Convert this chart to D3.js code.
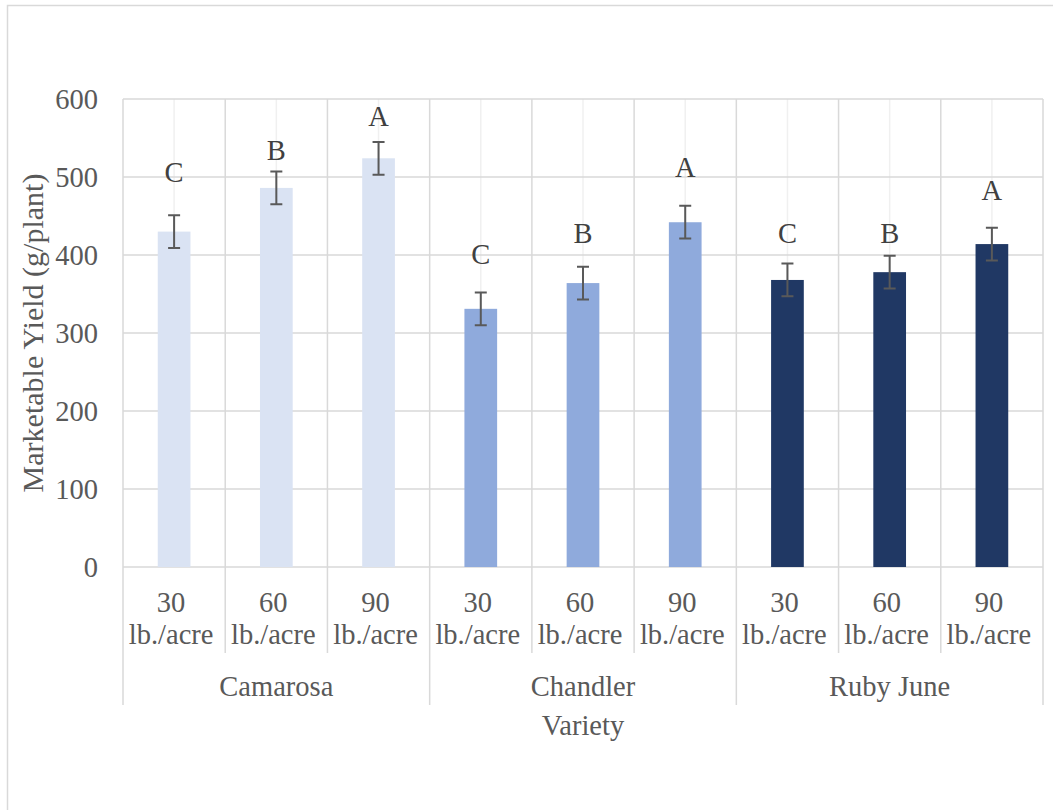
<!DOCTYPE html>
<html>
<head>
<meta charset="utf-8">
<script src="https://cdn.jsdelivr.net/npm/d3@7"></script>
<style>
  html, body { margin: 0; padding: 0; background: #ffffff; }
  svg { display: block; }
</style>
</head>
<body>
<svg id="chart" width="1053" height="810" font-family="'Liberation Serif', 'DejaVu Serif', 'Times New Roman', serif"></svg>
<script>
// Marketable yield by variety and nitrogen rate
const varieties = ["Camarosa", "Chandler", "Ruby June"];
const rates = ["30 lb./acre", "60 lb./acre", "90 lb./acre"];
const yieldValues = [430, 486, 524, 331, 364, 442, 368, 378, 414];
const errorValues = [21, 21, 21, 21, 21, 21, 21, 21, 21];
const letters = ["C", "B", "A", "C", "B", "A", "C", "B", "A"];
// height (g/plant) where each significance letter sits
const letterLevels = [493, 522, 565, 388, 416, 500, 415, 415, 471];
const yTicks = [0, 100, 200, 300, 400, 500, 600];
const varietyColors = ["#dae3f3", "#8faadc", "#203864"];

const rows = [];
varieties.forEach((v, vi) => rates.forEach((r, ri) => {
  const i = vi * rates.length + ri;
  rows.push({ key: v + "|" + r, variety: v, vi, rate: r, value: yieldValues[i], err: errorValues[i], letter: letters[i], level: letterLevels[i] });
}));

const svg = d3.select("#chart");
const W = 1053, H = 810;
const plot = { left: 123, right: 1043, top: 99, bottom: 567 };
const FS = 28.5;
const textColor = "#595959";

svg.append("rect").attr("width", W).attr("height", H).attr("fill", "#ffffff");
// chart frame
svg.append("path")
  .attr("d", `M7.5,${H + 2}V5.5H${W + 2}`)
  .attr("fill", "none").attr("stroke", "#d9d9d9").attr("stroke-width", 1.5);

const x = d3.scaleBand().domain(rows.map(d => d.key)).range([plot.left, plot.right]).padding(0);
const y = d3.scaleLinear().domain([0, 600]).range([plot.bottom, plot.top]);
const bw = x.bandwidth();
const barW = bw * 0.32;

// minor vertical lines through the category centres
svg.append("g").selectAll("line").data(rows).join("line")
  .attr("x1", d => x(d.key) + bw / 2).attr("x2", d => x(d.key) + bw / 2)
  .attr("y1", plot.top).attr("y2", plot.bottom)
  .attr("stroke", "#f0f0f0").attr("stroke-width", 1.5);

// horizontal gridlines
svg.append("g").selectAll("line").data(yTicks).join("line")
  .attr("x1", plot.left).attr("x2", plot.right)
  .attr("y1", d => y(d)).attr("y2", d => y(d))
  .attr("stroke", "#d9d9d9").attr("stroke-width", 1.5);

// vertical lines at category boundaries (extend into the axis label area)
const boundaries = d3.range(rows.length + 1).map(i => ({ i, x: plot.left + i * bw }));
svg.append("g").selectAll("line").data(boundaries).join("line")
  .attr("x1", d => d.x).attr("x2", d => d.x)
  .attr("y1", plot.top)
  .attr("y2", d => (d.i % rates.length === 0) ? 705 : 653)
  .attr("stroke", "#d9d9d9").attr("stroke-width", 1.5);

// bars
svg.append("g").selectAll("rect").data(rows).join("rect")
  .attr("x", d => x(d.key) + bw / 2 - barW / 2)
  .attr("width", barW)
  .attr("y", d => y(d.value))
  .attr("height", d => y(0) - y(d.value))
  .attr("fill", d => varietyColors[d.vi]);

// error bars
const eb = svg.append("g").attr("stroke", "#595959").attr("stroke-width", 2).attr("fill", "none");
eb.selectAll("path").data(rows).join("path")
  .attr("d", d => {
    const cx = x(d.key) + bw / 2, t = y(d.value + d.err), b = y(d.value - d.err), c = 6;
    return `M${cx - c},${t}H${cx + c}M${cx},${t}V${b}M${cx - c},${b}H${cx + c}`;
  });

// significance letters
svg.append("g").selectAll("text").data(rows).join("text")
  .attr("x", d => x(d.key) + bw / 2)
  .attr("y", d => y(d.level))
  .attr("text-anchor", "middle")
  .attr("font-size", FS)
  .attr("fill", "#404040")
  .text(d => d.letter);

// y axis labels
svg.append("g").selectAll("text").data(yTicks).join("text")
  .attr("x", 98).attr("y", d => y(d))
  .attr("text-anchor", "end").attr("dy", "0.35em")
  .attr("font-size", FS).attr("fill", textColor)
  .text(d => d);

// rate labels (two lines)
const rl = svg.append("g").selectAll("text").data(rows).join("text")
  .attr("text-anchor", "middle").attr("font-size", FS).attr("fill", textColor);
rl.each(function(d) {
  const parts = d.rate.split(" ");
  const cx = x(d.key) + bw / 2 - 3;
  const t = d3.select(this);
  t.append("tspan").attr("x", cx).attr("y", 612).text(parts[0]);
  t.append("tspan").attr("x", cx).attr("y", 644).text(parts.slice(1).join(" "));
});

// variety labels
svg.append("g").selectAll("text").data(varieties).join("text")
  .attr("x", (d, i) => plot.left + (i * rates.length + rates.length / 2) * bw)
  .attr("y", 696)
  .attr("text-anchor", "middle").attr("font-size", FS).attr("fill", textColor)
  .text(d => d);

// axis titles
svg.append("text")
  .attr("x", (plot.left + plot.right) / 2).attr("y", 735)
  .attr("text-anchor", "middle").attr("font-size", FS).attr("fill", textColor)
  .text("Variety");

svg.append("text")
  .attr("transform", `translate(43,${(plot.top + plot.bottom) / 2}) rotate(-90)`)
  .attr("text-anchor", "middle").attr("font-size", 30).attr("fill", textColor)
  .text("Marketable Yield (g/plant)");
</script>
</body>
</html>
